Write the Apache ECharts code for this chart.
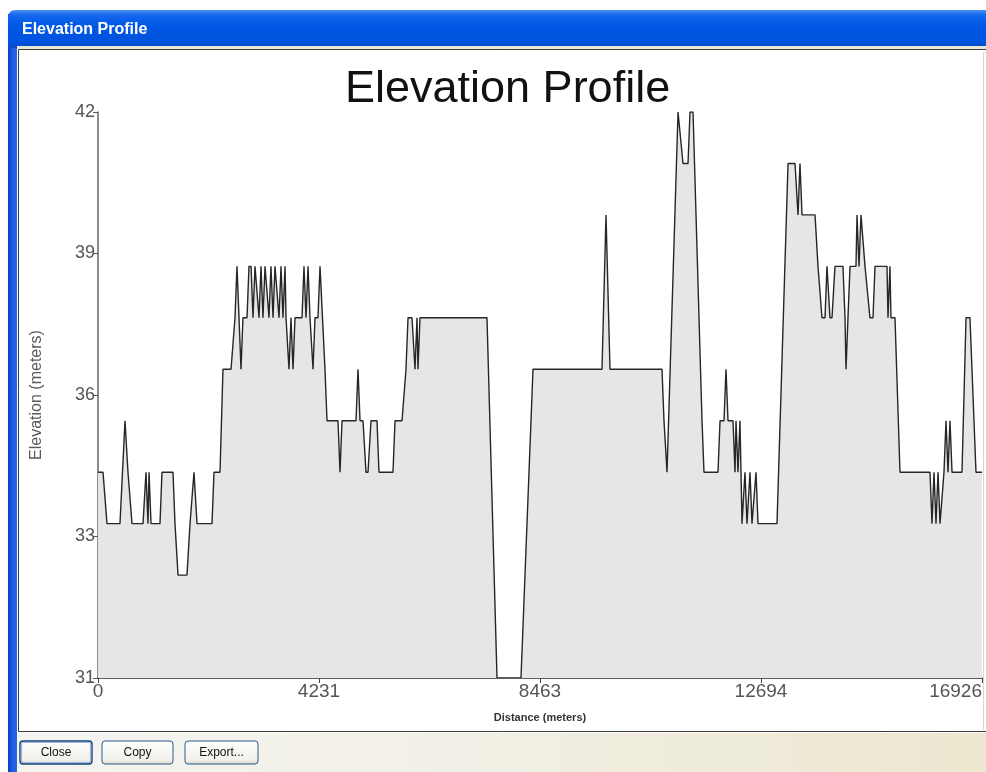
<!DOCTYPE html>
<html>
<head>
<meta charset="utf-8">
<title>Elevation Profile</title>
<script src="https://cdn.jsdelivr.net/npm/echarts@6/dist/echarts.min.js"></script>
<style>
  html, body { margin: 0; padding: 0; background: #ffffff; }
  #chart { width: 986px; height: 772px; }
</style>
</head>
<body>
<div id="chart"></div>
<script>
// Profile breakpoints: distance along the route (m) and elevation (m).
// A null elevation marks the stretch with no elevation data.
const distance = [
  0, 96, 172, 421, 517, 574, 651, 862, 919, 957, 977, 1015, 1187, 1225, 1436, 1474,
  1532, 1704, 1762, 1838, 1896, 2183, 2221, 2336, 2393, 2547, 2623, 2661, 2700, 2738,
  2776, 2853, 2891, 2930, 2968, 3006, 3044, 3083, 3121, 3159, 3198, 3236, 3274, 3312,
  3351, 3389, 3427, 3466, 3504, 3542, 3581, 3600, 3657, 3695, 3734, 3772, 3906, 3944,
  3983, 4021, 4059, 4117, 4155, 4212, 4251, 4289, 4346, 4385, 4595, 4634, 4672, 4940,
  4978, 5017, 5074, 5131, 5170, 5227, 5342, 5380, 5648, 5687, 5821, 5897, 5936, 6012,
  6070, 6108, 6127, 6165, 7448, 7640, 8000, 8099, 8329, 9650, 9727, 9803, 10799, 10837,
  10895, 10933, 11106, 11144, 11201, 11297, 11335, 11393, 11565, 11603, 11871, 11910,
  11986, 12024, 12063, 12158, 12197, 12216, 12254, 12292, 12331, 12388, 12426, 12484,
  12522, 12599, 12637, 12714, 13001, 13212, 13346, 13403, 13441, 13480, 13729, 13786,
  13862, 13920, 13958, 14015, 14054, 14111, 14264, 14303, 14322, 14360, 14399, 14513,
  14533, 14571, 14609, 14647, 14686, 14724, 14781, 14839, 14877, 15107, 15126, 15164,
  15183, 15260, 15356, 15930, 15969, 16007, 16045, 16084, 16122, 16160, 16198, 16237,
  16275, 16313, 16352, 16543, 16620, 16696, 16811, 16926
];
const elevation = [
  35, 35, 34, 34, 36, 35, 34, 34, 35, 34, 35, 34, 34, 35, 35, 34,
  33, 33, 34, 35, 34, 34, 35, 35, 37, 37, 38, 39, 38, 37,
  38, 38, 39, 39, 38, 39, 39, 38, 39, 38, 39, 39, 38, 39,
  38, 39, 39, 38, 39, 38, 39, 38, 37, 38, 37, 38, 38, 39,
  38, 39, 38, 37, 38, 38, 39, 39, 37, 36, 36, 35, 36, 36,
  37, 36, 36, 35, 35, 36, 36, 35, 35, 36, 36, 37, 38, 38,
  37, 38, 37, 38, 38, 31, null, 31, 37, 37, 40, 37, 37, 36,
  35, 35, 42, 42, 41, 41, 42, 42, 36, 35, 35, 36,
  36, 37, 36, 36, 35, 36, 35, 36, 34, 35, 34, 35,
  34, 35, 34, 34, 34, 41, 41, 40, 41, 40, 40, 39,
  38, 38, 39, 38, 38, 39, 39, 38, 37, 38, 39, 39,
  40, 39, 40, 40, 39, 39, 38, 38, 39, 39, 38, 39,
  38, 38, 35, 35, 34, 35, 34, 35, 34, 34, 35, 36,
  35, 36, 35, 35, 38, 38, 35, 35
];

// Tick positions; labels show the whole-number part.
const distanceTicks = [0, 4231.5, 8463, 12694.5, 16926];
const elevationTicks = [31, 33.75, 36.5, 39.25, 42];

const chart = echarts.init(document.getElementById('chart'), null, { renderer: 'canvas' });

const profile = distance.map((d, i) => [d, elevation[i]]);

// Dialog window frame, drawn behind the chart.
function button(x, w, label, isDefault) {
  const children = [{
    type: 'rect',
    shape: { x: 0, y: 0, width: w, height: 23, r: 3 },
    style: {
      fill: new echarts.graphic.LinearGradient(0, 0, 0, 1, [
        { offset: 0, color: '#ffffff' }, { offset: 0.8, color: '#f2f1ea' }, { offset: 1, color: '#d9d6c8' }
      ]),
      stroke: isDefault ? '#123f78' : '#2a5a90', lineWidth: isDefault ? 1.4 : 1
    }
  }];
  if (isDefault) {
    children.push({
      type: 'rect',
      shape: { x: 1.5, y: 1.5, width: w - 3, height: 20, r: 2 },
      style: { fill: null, stroke: '#9cb6e6', lineWidth: 1.2 }
    });
  }
  children.push({
    type: 'text',
    style: {
      text: label, x: w / 2, y: 12,
      align: 'center', verticalAlign: 'middle',
      font: '12px "Liberation Sans", Arial, sans-serif', fill: '#111111'
    }
  });
  return { type: 'group', x: x, y: 741, z: -5, children: children };
}

const option = {
  animation: false,
  backgroundColor: '#ffffff',
  title: {
    text: 'Elevation Profile',
    left: 340,
    top: 62,
    textStyle: {
      fontFamily: '"Liberation Sans", Arial, sans-serif',
      fontSize: 45,
      fontWeight: 'normal',
      color: '#111111'
    }
  },
  graphic: [
    // left window border
    { type: 'rect', z: -5, shape: { x: 8, y: 14, width: 9, height: 758 },
      style: { fill: new echarts.graphic.LinearGradient(0, 0, 1, 0, [
        { offset: 0, color: '#0a3fc2' }, { offset: 0.5, color: '#1c5ee6' }, { offset: 1, color: '#2a68e0' }
      ]) } },
    // title bar
    { type: 'rect', z: -5, shape: { x: 8, y: 10, width: 978, height: 38, r: [7, 0, 0, 0] },
      style: { fill: new echarts.graphic.LinearGradient(0, 0, 0, 1, [
        { offset: 0, color: '#4a94f4' }, { offset: 0.12, color: '#1769ee' },
        { offset: 0.4, color: '#0058e6' }, { offset: 0.85, color: '#0053dc' }, { offset: 1, color: '#0a4bc8' }
      ]) } },
    { type: 'text', z: -4, style: {
        text: 'Elevation Profile', x: 22, y: 30, verticalAlign: 'middle',
        font: 'bold 16px "Liberation Sans", Arial, sans-serif', fill: '#ffffff',
        textShadowColor: 'rgba(0,0,40,0.6)', textShadowOffsetX: 1, textShadowOffsetY: 1, textShadowBlur: 0
      } },
    // light strip under the title bar
    { type: 'rect', z: -5, shape: { x: 17, y: 46, width: 969, height: 3 }, style: { fill: '#e9e6d6' } },
    // white chart panel with its border
    { type: 'rect', z: -5, shape: { x: 18.5, y: 49.5, width: 970, height: 682 },
      style: { fill: '#ffffff', stroke: '#3c3c3c', lineWidth: 1 } },
    { type: 'line', z: -4, shape: { x1: 983.5, y1: 52, x2: 983.5, y2: 730 },
      style: { stroke: '#d6d6d6', lineWidth: 1 } },
    // button strip
    { type: 'rect', z: -5, shape: { x: 17, y: 733, width: 969, height: 39 },
      style: { fill: new echarts.graphic.LinearGradient(0, 0, 1, 0, [
        { offset: 0, color: '#f4f4f1' }, { offset: 0.5, color: '#f1efe4' }, { offset: 1, color: '#ede7cf' }
      ]) } },
    button(20, 72, 'Close', true),
    button(102, 71, 'Copy', false),
    button(185, 73, 'Export...', false)
  ],
  grid: {
    left: 98,
    right: 4,
    top: 112,
    bottom: 94,
    containLabel: false
  },
  xAxis: {
    type: 'value',
    min: 0,
    max: 16926,
    name: 'Distance (meters)',
    nameLocation: 'middle',
    nameGap: 34,
    nameTextStyle: {
      fontFamily: '"Liberation Sans", Arial, sans-serif',
      fontSize: 11,
      fontWeight: 'bold',
      color: '#333333'
    },
    splitLine: { show: false },
    axisLine: { show: true, onZero: false, lineStyle: { color: '#2a2a2a', width: 1.6 } },
    axisTick: { show: true, length: 5, customValues: distanceTicks, lineStyle: { color: '#444444' } },
    axisLabel: {
      customValues: distanceTicks,
      alignMaxLabel: 'right',
      margin: 4,
      fontFamily: '"Liberation Sans", Arial, sans-serif',
      fontSize: 19,
      color: '#555555',
      formatter: v => String(Math.floor(v))
    }
  },
  yAxis: {
    type: 'value',
    min: 31,
    max: 42,
    name: 'Elevation (meters)',
    nameLocation: 'middle',
    nameGap: 53,
    nameTextStyle: {
      fontFamily: '"Liberation Sans", Arial, sans-serif',
      fontSize: 16,
      color: '#5a5a5a'
    },
    splitLine: { show: false },
    axisLine: { show: true, onZero: false, lineStyle: { color: '#666666', width: 1.5 } },
    axisTick: { show: true, length: 5, customValues: elevationTicks, lineStyle: { color: '#555555' } },
    axisLabel: {
      customValues: elevationTicks,
      margin: 3,
      fontFamily: '"Liberation Sans", Arial, sans-serif',
      fontSize: 18,
      color: '#555555',
      formatter: v => String(Math.floor(v))
    }
  },
  series: [{
    type: 'line',
    data: profile,
    showSymbol: false,
    connectNulls: false,
    clip: true,
    lineStyle: { color: '#262626', width: 1.4 },
    areaStyle: { color: '#e6e6e6', opacity: 1, origin: 'start' },
    z: 2
  }]
};

chart.setOption(option);
</script>
</body>
</html>
